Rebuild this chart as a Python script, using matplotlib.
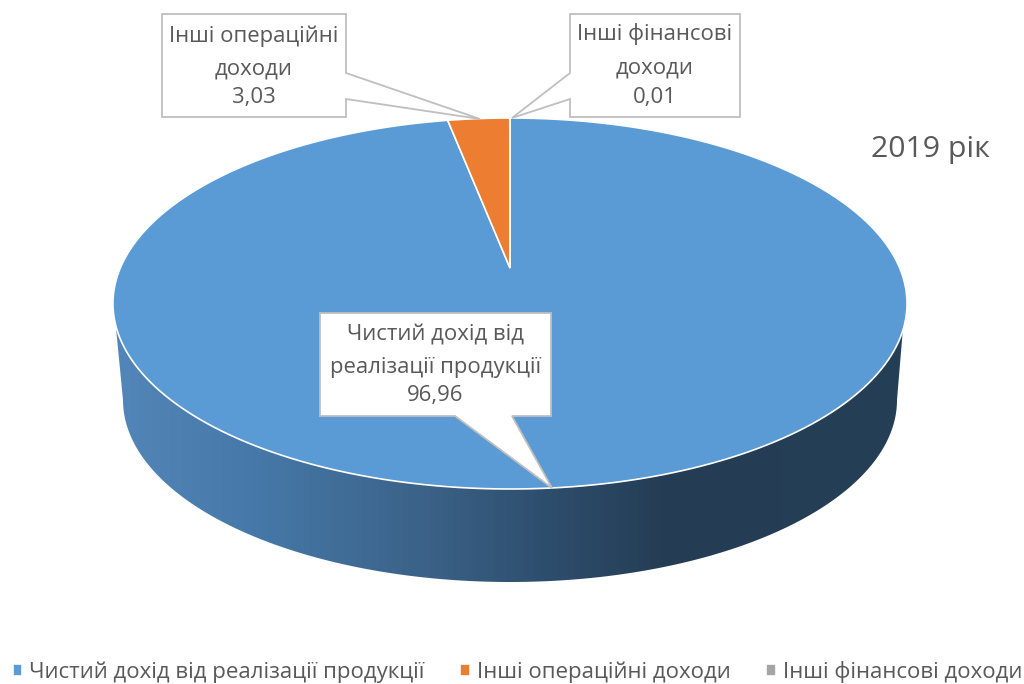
import numpy as np
import matplotlib
matplotlib.use("Agg")
import matplotlib.pyplot as plt
from matplotlib.colors import LinearSegmentedColormap
from matplotlib.patches import Polygon
from matplotlib.path import Path
from matplotlib.transforms import Transform

categories = ["Чистий дохід від реалізації продукції", "Інші операційні доходи", "Інші фінансові доходи"]
values = [96.96, 3.03, 0.01]
colors = ["#5B9BD5", "#ED7D31", "#A5A5A5"]
label_lines = [["Чистий дохід від", "реалізації продукції"], ["Інші операційні", "доходи"], ["Інші фінансові", "доходи"]]
title = "2019 рік"

plt.rcParams["font.family"] = ["Open Sans", "DejaVu Sans"]
TEXT = "#595959"


class TiltedPie(Transform):
    """Maps the unit pie to the tilted ellipse, apex nearer the back edge."""
    input_dims = 2
    output_dims = 2
    is_separable = False
    has_inverse = False

    def transform_non_affine(self, values):
        xy = np.asarray(values, dtype=float)
        w = 1 + 0.1914 * xy[:, 1]
        return np.column_stack([510 + 389.7 * xy[:, 0] / w, (268 - 127.4 * xy[:, 1]) / w])

    def transform_path_non_affine(self, path):
        # flatten the arcs at a larger scale so they stay smooth
        big = Path(path.vertices * 1000, path.codes)
        polys = [Path(self.transform_non_affine(p / 1000)) for p in big.to_polygons(closed_only=False)]
        return Path.make_compound_path(*polys)


fig = plt.figure(figsize=(10.24, 6.84), dpi=100)
ax = fig.add_axes([0, 0, 1, 1])

wedges, _ = ax.pie(values, colors=colors, startangle=90, counterclock=False,
                   wedgeprops={"edgecolor": "white", "linewidth": 1.2})
ax.set_aspect("auto")
for w in wedges:
    w.set_transform(TiltedPie() + ax.transData)
    w.set_zorder(3)

# side wall of the pie with its left to right shading
t = np.linspace(np.pi, 0, 200)
rim = np.column_stack([510 + 387 * np.cos(t), 400 + 182 * np.sin(t)])
wall = np.vstack([[[116, 328]], rim, [[903, 328], [510, 300]]])
clip = Polygon(wall, closed=True, transform=ax.transData, fc="none", ec="none")
ax.add_patch(clip)
shade = LinearSegmentedColormap.from_list("wall", [(0, "#5386B8"), (0.17, "#4679A9"), (0.39, "#3B6288"),
                                                   (0.545, "#2E4E6E"), (0.70, "#243D54"), (1, "#243F57")])
img = ax.imshow(np.linspace(0, 1, 256)[None, :], extent=(116, 903, 600, 300), cmap=shade, aspect="auto",
                interpolation="bilinear", zorder=2)
img.set_clip_path(clip)

# data label callouts
boxes = [
    [(320, 313), (551, 313), (551, 416), (512, 416), (552, 488), (455, 416), (320, 416)],
    [(162, 14), (346, 14), (346, 73), (480, 119), (346, 99), (346, 117), (162, 117)],
    [(570, 14), (740, 14), (740, 117), (570, 117), (570, 99), (512, 118), (570, 73)],
]
line_y = [(335, 367, 395), (36, 69, 97), (34, 68, 97)]
text_x = [435.5, 254, 655]
for i in range(3):
    ax.add_patch(Polygon(boxes[i], closed=True, fc="white", ec="#BFBFBF", lw=1.3, zorder=4))
    lines = label_lines[i] + [f"{values[i]:.2f}".replace(".", ",")]
    for ln, y in zip(lines, line_y[i]):
        ax.text(text_x[i], y, ln, ha="center", va="center", color=TEXT, fontsize=15.9, zorder=5)

ax.text(930.5, 149, title, ha="center", va="center", color=TEXT, fontsize=21.8)

ax.legend(wedges, categories, loc="center", bbox_to_anchor=(517.5 / 1024, 1 - 672 / 684), ncol=3, frameon=False,
          fontsize=16.05, labelcolor=TEXT, handlelength=0.42, handleheight=0.42, handletextpad=0.33,
          columnspacing=1.6, borderpad=0, borderaxespad=0)

ax.set_xlim(0, 1024)
ax.set_ylim(684, 0)
ax.axis("off")
fig.savefig("out.png", dpi=100)
